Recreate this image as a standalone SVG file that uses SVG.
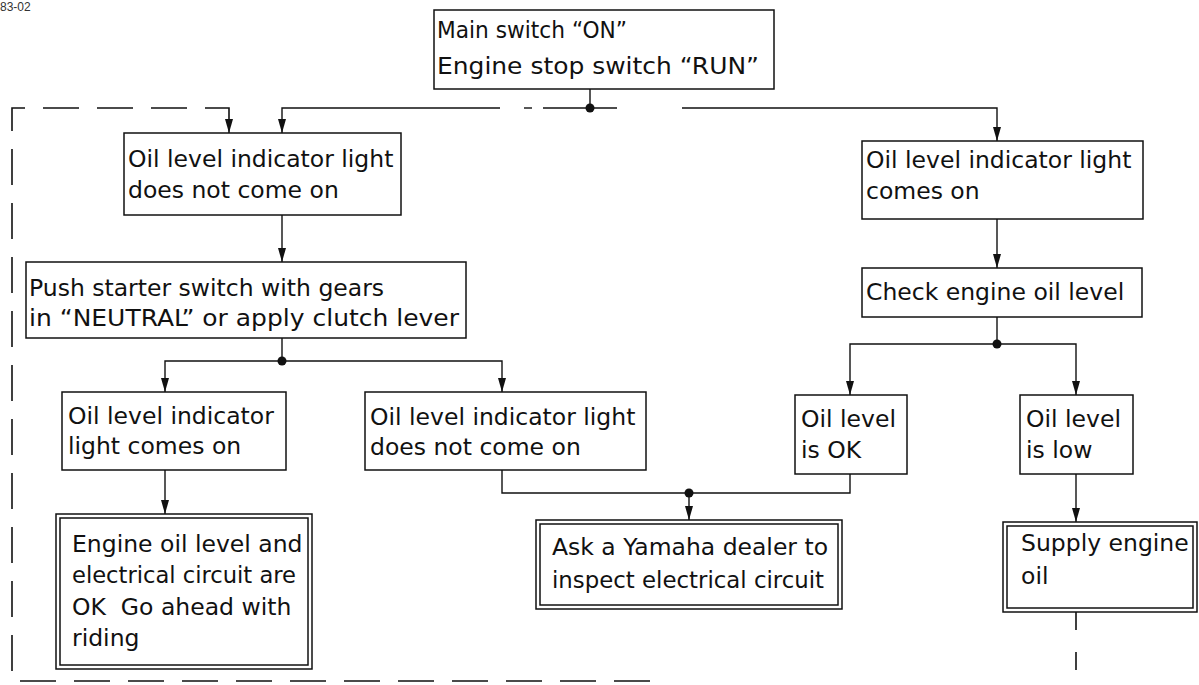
<svg xmlns="http://www.w3.org/2000/svg" width="1199" height="685" viewBox="0 0 1199 685">
<style>
  .box{fill:#fff;stroke:#111;stroke-width:1.5}
  .t{font-family:"DejaVu Sans",sans-serif;font-size:23.5px;fill:#111;white-space:pre}
  .ln{fill:none;stroke:#111;stroke-width:1.4}
  .dash{fill:none;stroke:#111;stroke-width:1.6;stroke-dasharray:36 18}
  .dash2{fill:none;stroke:#111;stroke-width:1.6;stroke-dasharray:18 22}
  .dot{fill:#111}
</style>
<defs>
  <marker id="arr" viewBox="0 0 14 8" refX="14" refY="4" markerWidth="14" markerHeight="8" markerUnits="userSpaceOnUse" orient="auto">
    <path d="M0,0 L14,4 L0,8 z" fill="#111"/>
  </marker>
</defs>
<rect width="1199" height="685" fill="#fff"/>
<text x="0" y="11" style="font-family:'Liberation Sans',sans-serif;font-size:12px;fill:#333">83-02</text>

<g id="connectors">
  <!-- top junction -->
  <path class="ln" d="M590,89 V108"/>
  <path class="ln" d="M500,108 H282 V133" marker-end="url(#arr)"/>
  <path class="ln" d="M524,108 H532"/>
  <path class="ln" d="M543,108 H617"/>
  <path class="ln" d="M682,108 H997 V141" marker-end="url(#arr)"/>
  <circle class="dot" cx="590" cy="108" r="4.5"/>
  <!-- left branch -->
  <path class="ln" d="M282,215 V262" marker-end="url(#arr)"/>
  <path class="ln" d="M282,338 V361"/>
  <path class="ln" d="M282,361 H165 V392" marker-end="url(#arr)"/>
  <path class="ln" d="M282,361 H502 V392" marker-end="url(#arr)"/>
  <circle class="dot" cx="282" cy="361" r="4.5"/>
  <path class="ln" d="M165,470 V514" marker-end="url(#arr)"/>
  <!-- bottom middle junction -->
  <path class="ln" d="M502,470 V493 H850 V474"/>
  <path class="ln" d="M689,493 V520" marker-end="url(#arr)"/>
  <circle class="dot" cx="689" cy="493" r="4.5"/>
  <!-- right branch -->
  <path class="ln" d="M997,219 V268" marker-end="url(#arr)"/>
  <path class="ln" d="M997,317 V344"/>
  <path class="ln" d="M997,344 H850 V395" marker-end="url(#arr)"/>
  <path class="ln" d="M997,344 H1076 V395" marker-end="url(#arr)"/>
  <circle class="dot" cx="997" cy="344" r="4.5"/>
  <path class="ln" d="M1076,474 V522" marker-end="url(#arr)"/>
  <!-- dashed return loop -->
  <path class="dash2" d="M1076,612 V685"/>
  <path class="dash" d="M650,681 H12 V108 H229 V126"/>
  <path class="ln" d="M229,126 V133" marker-end="url(#arr)"/>
</g>

<g id="n-start">
  <rect class="box" x="434" y="10" width="340" height="79"/>
  <text class="t" x="437" y="38" textLength="190" lengthAdjust="spacingAndGlyphs">Main switch “ON”</text>
  <text class="t" x="437" y="74" textLength="322" lengthAdjust="spacingAndGlyphs">Engine stop switch “RUN”</text>
</g>

<g id="n-not-on">
  <rect class="box" x="124" y="133" width="277" height="82"/>
  <text class="t" x="128" y="167">Oil level indicator light</text>
  <text class="t" x="128" y="198">does not come on</text>
</g>

<g id="n-comes-on">
  <rect class="box" x="862" y="141" width="281" height="78"/>
  <text class="t" x="866" y="168">Oil level indicator light</text>
  <text class="t" x="866" y="199">comes on</text>
</g>

<g id="n-push">
  <rect class="box" x="26" y="262" width="440" height="76"/>
  <text class="t" x="29" y="296">Push starter switch with gears</text>
  <text class="t" x="29" y="326" textLength="430" lengthAdjust="spacingAndGlyphs">in “NEUTRAL” or apply clutch lever</text>
</g>

<g id="n-check">
  <rect class="box" x="862" y="268" width="280" height="49"/>
  <text class="t" x="866" y="300">Check engine oil level</text>
</g>

<g id="n-light-on">
  <rect class="box" x="62" y="392" width="224" height="78"/>
  <text class="t" x="68" y="424">Oil level indicator</text>
  <text class="t" x="68" y="454">light comes on</text>
</g>

<g id="n-light-off">
  <rect class="box" x="365" y="392" width="281" height="78"/>
  <text class="t" x="370" y="425">Oil level indicator light</text>
  <text class="t" x="370" y="455">does not come on</text>
</g>

<g id="n-ok">
  <rect class="box" x="795" y="395" width="112" height="79"/>
  <text class="t" x="801" y="427">Oil level</text>
  <text class="t" x="801" y="458">is OK</text>
</g>

<g id="n-low">
  <rect class="box" x="1020" y="395" width="113" height="79"/>
  <text class="t" x="1026" y="427">Oil level</text>
  <text class="t" x="1026" y="458">is low</text>
</g>

<g id="n-go">
  <rect class="box" x="56" y="514" width="256" height="155"/>
  <rect class="box" x="60" y="518" width="248" height="147"/>
  <text class="t" x="72" y="552">Engine oil level and</text>
  <text class="t" x="72" y="583" textLength="224" lengthAdjust="spacingAndGlyphs">electrical circuit are</text>
  <text class="t" x="72" y="615">OK  Go ahead with</text>
  <text class="t" x="72" y="646">riding</text>
</g>

<g id="n-dealer">
  <rect class="box" x="536" y="520" width="306" height="89"/>
  <rect class="box" x="540" y="524" width="298" height="81"/>
  <text class="t" x="552" y="555" textLength="276" lengthAdjust="spacingAndGlyphs">Ask a Yamaha dealer to</text>
  <text class="t" x="552" y="588" textLength="272" lengthAdjust="spacingAndGlyphs">inspect electrical circuit</text>
</g>

<g id="n-supply">
  <rect class="box" x="1003" y="522" width="194" height="90"/>
  <rect class="box" x="1007" y="526" width="186" height="82"/>
  <text class="t" x="1021" y="551">Supply engine</text>
  <text class="t" x="1021" y="584">oil</text>
</g>
</svg>
